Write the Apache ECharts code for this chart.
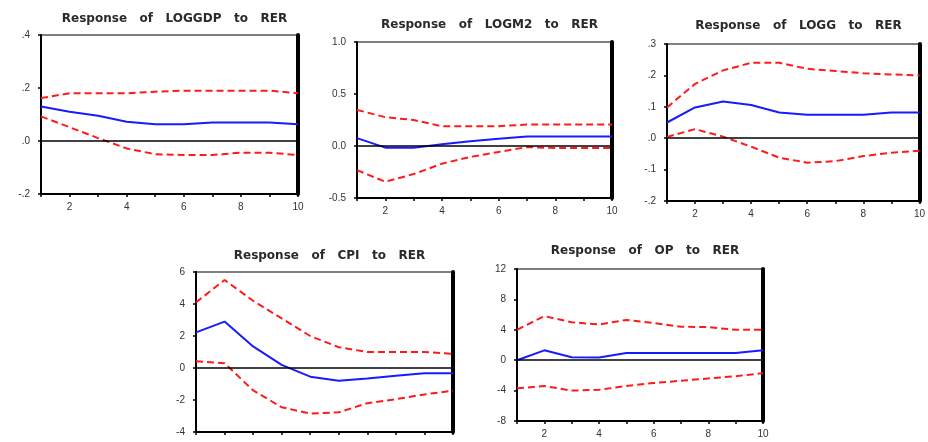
<!DOCTYPE html>
<html><head><meta charset="utf-8">
<script src="https://cdn.jsdelivr.net/npm/echarts@6/dist/echarts.min.js"></script>
<style>html,body{margin:0;padding:0;background:#fff}#c{width:928px;height:442px}</style>
</head><body><div id="c"></div>
<script>
const periods = [1,2,3,4,5,6,7,8,9,10];

const titles = ["Response   of   LOGGDP   to   RER", "Response   of   LOGM2   to   RER", "Response   of   LOGG   to   RER", "Response   of   CPI   to   RER", "Response   of   OP   to   RER"];

const gdpIrf = [0.13, 0.11, 0.095, 0.073, 0.063, 0.063, 0.07, 0.07, 0.07, 0.063];
const gdpUp  = [0.162, 0.18, 0.18, 0.18, 0.186, 0.19, 0.19, 0.19, 0.19, 0.18];
const gdpLo  = [0.093, 0.052, 0.011, -0.028, -0.05, -0.053, -0.053, -0.044, -0.044, -0.053];

const m2Irf = [0.076, -0.016, -0.016, 0.016, 0.045, 0.07, 0.092, 0.092, 0.092, 0.092];
const m2Up  = [0.347, 0.277, 0.25, 0.19, 0.19, 0.19, 0.207, 0.207, 0.207, 0.207];
const m2Lo  = [-0.232, -0.344, -0.27, -0.17, -0.105, -0.057, -0.01, -0.02, -0.02, -0.02];

const ggIrf = [0.05, 0.098, 0.117, 0.106, 0.082, 0.075, 0.075, 0.075, 0.082, 0.082];
const ggUp  = [0.098, 0.173, 0.216, 0.24, 0.24, 0.221, 0.214, 0.207, 0.203, 0.2];
const ggLo  = [0.004, 0.029, 0.005, -0.027, -0.062, -0.078, -0.073, -0.057, -0.046, -0.04];

const cpiIrf = [2.23, 2.9, 1.35, 0.2, -0.54, -0.79, -0.65, -0.48, -0.33, -0.33];
const cpiUp  = [4.1, 5.5, 4.2, 3.1, 2.0, 1.3, 1.0, 1.0, 1.0, 0.88];
const cpiLo  = [0.42, 0.3, -1.4, -2.45, -2.85, -2.77, -2.2, -1.95, -1.65, -1.42];

const opIrf = [0, 1.3, 0.4, 0.35, 0.95, 0.95, 0.95, 0.95, 0.95, 1.3];
const opUp  = [4.0, 5.8, 5.0, 4.7, 5.3, 4.9, 4.4, 4.35, 4.0, 4.0];
const opLo  = [-3.7, -3.4, -4.0, -3.9, -3.4, -3.0, -2.7, -2.4, -2.1, -1.7];

const yMin = [-0.2, -0.5, -0.2, -4, -8];
const yMax = [0.4, 1.0, 0.3, 6, 12];
const yStep = [0.2, 0.5, 0.1, 2, 4];

const panels = [
  {irf: gdpIrf, up: gdpUp, lo: gdpLo},
  {irf: m2Irf, up: m2Up, lo: m2Lo},
  {irf: ggIrf, up: ggUp, lo: ggLo},
  {irf: cpiIrf, up: cpiUp, lo: cpiLo},
  {irf: opIrf, up: opUp, lo: opLo}
];

// layout boxes (left, top, width, height)
const boxes = [
  [41, 35, 257, 159],
  [357, 42, 255, 156],
  [667, 44, 253, 157],
  [196, 272, 257, 160],
  [517, 269, 246, 152]
];
const titleTop = [8, 14, 15, 245, 240];
const showXLabels = [true, true, true, false, true];

function fmtDot(v){ // EViews style .4 / -.2
  const r = Math.round(v*10)/10;
  if (r === 0) return '.0';
  const s = Math.abs(r).toFixed(1).replace(/^0/, '');
  return (r < 0 ? '-' : '') + s;
}
const yFmt = [fmtDot, v => (Math.round(v*10)/10).toFixed(1), fmtDot, v => String(Math.round(v)), v => String(Math.round(v))];

const grid = [], xAxis = [], yAxis = [], series = [], title = [];
const labelStyle = {color: '#333', fontSize: 10, fontFamily: 'Liberation Sans, Arial, sans-serif'};

boxes.forEach((b, i) => {
  grid.push({left: b[0], top: b[1], width: b[2], height: b[3], show: true, borderColor: '#000', borderWidth: 1, backgroundColor: '#fff'});
  title.push({text: titles[i], left: b[0] + b[2]/2, top: titleTop[i], textAlign: 'center',
    textStyle: {fontSize: 12, fontWeight: 'bold', color: '#2a2a2a', fontFamily: 'DejaVu Sans, sans-serif'}});
  xAxis.push({type: 'value', gridIndex: i, min: 1, max: 10, interval: 1,
    axisLine: {show: true, onZero: false, lineStyle: {color: '#000', width: 2}},
    axisTick: {show: true, inside: false, length: 3, lineStyle: {color: '#000', width: 1.5}},
    splitLine: {show: false},
    axisLabel: Object.assign({show: showXLabels[i], formatter: v => (v % 2 === 0 ? String(v) : ''), margin: 8, showMinLabel: true, showMaxLabel: true}, labelStyle)});
  yAxis.push({type: 'value', gridIndex: i, min: yMin[i], max: yMax[i], interval: yStep[i],
    axisLine: {show: true, lineStyle: {color: '#000', width: 2}},
    axisTick: {show: true, inside: false, length: 3, lineStyle: {color: '#000', width: 1.5}},
    splitLine: {show: false},
    axisLabel: Object.assign({formatter: yFmt[i], margin: 11}, labelStyle)});
  // right thick frame edge
  yAxis.push({type: 'value', gridIndex: i, position: 'right', min: yMin[i], max: yMax[i],
    axisLine: {show: true, lineStyle: {color: '#000', width: 4}}, axisTick: {show: false}, axisLabel: {show: false}, splitLine: {show: false}});
  const yIdx = yAxis.length - 2;
  const p = panels[i];
  const mk = arr => periods.map((x, k) => [x, arr[k]]);
  series.push({type: 'line', xAxisIndex: i, yAxisIndex: yIdx, data: mk(p.irf), symbol: 'none', z: 3,
    lineStyle: {color: '#1a1aff', width: 2},
    markLine: {silent: true, symbol: 'none', label: {show: false}, data: [{yAxis: 0}], lineStyle: {color: '#000', width: 1.5, type: 'solid'}, animation: false}});
  series.push({type: 'line', xAxisIndex: i, yAxisIndex: yIdx, data: mk(p.up), symbol: 'none', z: 4,
    lineStyle: {color: '#ff1a1a', width: 2, type: [7, 4]}});
  series.push({type: 'line', xAxisIndex: i, yAxisIndex: yIdx, data: mk(p.lo), symbol: 'none', z: 4,
    lineStyle: {color: '#ff1a1a', width: 2, type: [7, 4]}});
});

const chart = echarts.init(document.getElementById('c'), null, {renderer: 'canvas'});
chart.setOption({animation: false, backgroundColor: '#fff', title, grid, xAxis, yAxis, series});
</script></body></html>
